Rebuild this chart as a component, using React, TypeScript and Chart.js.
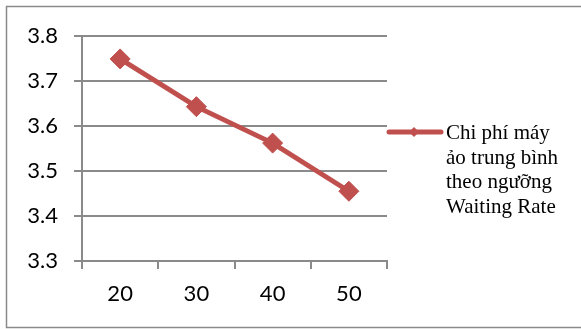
import React, { useEffect, useRef } from "react";
import { Chart, registerables } from "chart.js";

Chart.register(...registerables);

// Waiting Rate thresholds and the average VM cost at each one
const categories = ["20", "30", "40", "50"];
const costValues = [3.749, 3.643, 3.562, 3.455];
const seriesLabelLines = ["Chi phí máy", "ảo trung bình", "theo ngưỡng", "Waiting Rate"];

const SERIES_COLOR = "#C0504D";
const GRID_COLOR = "#8a8a8a";
const AXIS_FONT = { family: "Lato, 'Open Sans', sans-serif", size: 22 };

// Outer frame plus a legend with wrapped serif text on the right
const framePlugin = {
  id: "frameAndLegend",
  beforeDraw(chart: any) {
    const { ctx } = chart;
    ctx.save();
    ctx.fillStyle = "#ffffff";
    ctx.fillRect(0, 0, chart.width, chart.height);
    ctx.strokeStyle = GRID_COLOR;
    ctx.lineWidth = 1.5;
    ctx.strokeRect(6.5, 6.5, chart.width + 10, 321);
    ctx.restore();
  },
  afterDraw(chart: any) {
    const { ctx, chartArea } = chart;
    const ds = chart.data.datasets[0];
    const x0 = chartArea.right;
    const y = 132;
    ctx.save();
    ctx.strokeStyle = ds.borderColor;
    ctx.lineWidth = 5;
    ctx.lineCap = "round";
    ctx.beginPath();
    ctx.moveTo(x0 + 2, y);
    ctx.lineTo(x0 + 54, y);
    ctx.stroke();
    // small diamond marker in the middle of the sample
    const cx = x0 + 27;
    ctx.fillStyle = ds.borderColor;
    ctx.beginPath();
    ctx.moveTo(cx - 5, y);
    ctx.lineTo(cx, y - 5);
    ctx.lineTo(cx + 5, y);
    ctx.lineTo(cx, y + 5);
    ctx.closePath();
    ctx.fill();

    ctx.fillStyle = "#000000";
    ctx.font = "21px 'Liberation Serif', 'Times New Roman', serif";
    ctx.textAlign = "left";
    ctx.textBaseline = "alphabetic";
    seriesLabelLines.forEach((line, i) => {
      ctx.fillText(line, x0 + 59, 139 + i * 24.5);
    });
    ctx.restore();
  },
};

export default function App() {
  const canvasRef = useRef<HTMLCanvasElement | null>(null);

  useEffect(() => {
    if (!canvasRef.current) return;
    const chart = new Chart(canvasRef.current, {
      type: "line",
      data: {
        labels: categories,
        datasets: [
          {
            label: seriesLabelLines.join(" "),
            data: costValues,
            borderColor: SERIES_COLOR,
            backgroundColor: SERIES_COLOR,
            borderWidth: 5,
            pointStyle: "rectRot",
            pointRadius: 10,
            pointHoverRadius: 10,
            pointBorderWidth: 1,
            pointBorderColor: SERIES_COLOR,
            pointBackgroundColor: SERIES_COLOR,
            tension: 0,
          },
        ],
      },
      options: {
        animation: false,
        responsive: false,
        maintainAspectRatio: false,
        devicePixelRatio: 1,
        layout: { padding: { top: 36, right: 194, bottom: 0, left: 0 } },
        plugins: {
          legend: { display: false },
          tooltip: { enabled: false },
        },
        scales: {
          x: {
            type: "category",
            offset: true,
            grid: {
              offset: true,
              drawOnChartArea: false,
              drawTicks: true,
              tickLength: 8,
              color: GRID_COLOR,
              lineWidth: 2,
            },
            border: { display: true, color: GRID_COLOR, width: 2 },
            ticks: {
              color: "#000000",
              font: AXIS_FONT,
              padding: 12,
              maxRotation: 0,
            },
            afterFit(scale: any) {
              scale.height = 68;
            },
          },
          y: {
            min: 3.3,
            max: 3.8,
            ticks: {
              stepSize: 0.1,
              color: "#000000",
              font: AXIS_FONT,
              padding: 16,
              callback: (v: any) => Number(v).toFixed(1),
            },
            grid: {
              color: GRID_COLOR,
              lineWidth: 2,
              tickLength: 8,
            },
            border: { display: true, color: GRID_COLOR, width: 2 },
            afterFit(scale: any) {
              scale.width = 82;
            },
          },
        },
      },
      plugins: [framePlugin],
    });
    return () => chart.destroy();
  }, []);

  return (
    <div style={{ position: "absolute", left: 0, top: 0, width: 581, height: 329 }}>
      <canvas ref={canvasRef} width={581} height={329} style={{ display: "block" }} />
    </div>
  );
}
